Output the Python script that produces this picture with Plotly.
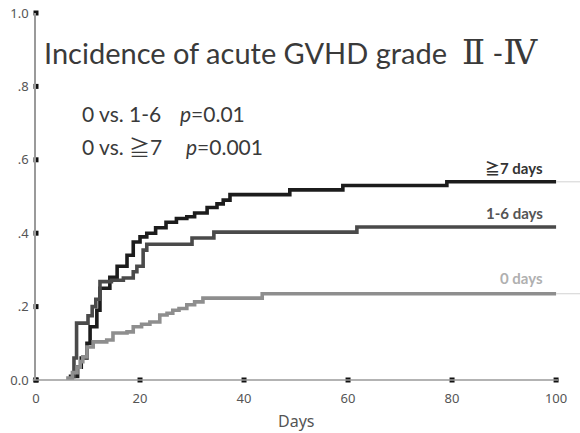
import plotly.graph_objects as go

# Cumulative incidence step curves (day, cumulative incidence)
days_ge7 = [6.3, 8.0, 8.7, 9.8, 10.4, 11.7, 12.3, 14.2, 15.6, 17.5, 18.7, 20.0, 21.3, 23.0,
            25.0, 27.0, 29.0, 30.5, 32.9, 34.8, 36.0, 37.3, 48.8, 59.0, 79.0, 100.0]
inc_ge7 = [0.01, 0.035, 0.06, 0.10, 0.145, 0.19, 0.25, 0.28, 0.31, 0.34, 0.376, 0.39, 0.40, 0.415,
           0.43, 0.44, 0.445, 0.455, 0.47, 0.48, 0.49, 0.505, 0.518, 0.53, 0.54, 0.54]

days_1to6 = [6.8, 7.3, 7.8, 10.0, 10.8, 11.5, 12.3, 14.5, 16.8, 18.7, 19.4, 20.6, 21.3,
             30.0, 34.2, 61.7, 100.0]
inc_1to6 = [0.01, 0.06, 0.155, 0.175, 0.20, 0.22, 0.268, 0.272, 0.278, 0.295, 0.31, 0.354, 0.37,
            0.387, 0.403, 0.417, 0.417]

days_0 = [5.8, 7.0, 7.9, 8.5, 9.0, 9.8, 11.0, 13.6, 14.8, 17.5, 18.7, 20.3, 21.9, 23.8, 25.2,
          26.3, 27.5, 29.0, 30.5, 32.1, 43.5, 100.0]
inc_0 = [0.005, 0.02, 0.035, 0.05, 0.063, 0.09, 0.104, 0.109, 0.128, 0.131, 0.145, 0.152, 0.158,
         0.177, 0.182, 0.19, 0.195, 0.205, 0.213, 0.223, 0.235, 0.235]

x_ticks = [0, 20, 40, 60, 80, 100]
y_ticks = [0.0, 0.2, 0.4, 0.6, 0.8, 1.0]
y_tick_text = ["0.0", ".2", ".4", ".6", ".8", "1.0"]

series = [
    ("≧7 days", days_ge7, inc_ge7, "#1c1c1c"),
    ("1-6 days", days_1to6, inc_1to6, "#4a4a4a"),
    ("0 days", days_0, inc_0, "#8e8e8e"),
]

X_MAX = 104.6

fig = go.Figure()

for name, d, v, col in series:
    fig.add_trace(go.Scatter(x=d, y=v, mode="lines", line=dict(color=col, width=3.6, shape="hv"),
                             name=name, showlegend=False, hoverinfo="skip"))

# faint continuation past day 100
for d, v in ((days_ge7, inc_ge7), (days_0, inc_0)):
    fig.add_trace(go.Scatter(x=[d[-1], X_MAX], y=[v[-1], v[-1]], mode="lines",
                             line=dict(color="#d2d2d2", width=1), showlegend=False, hoverinfo="skip"))

# square tick markers on both axes
fig.add_trace(go.Scatter(x=[0] * len(y_ticks), y=y_ticks, mode="markers",
                         marker=dict(symbol="square", size=5, color="#111111"),
                         cliponaxis=False, showlegend=False, hoverinfo="skip"))
fig.add_trace(go.Scatter(x=x_ticks, y=[0] * len(x_ticks), mode="markers",
                         marker=dict(symbol="square", size=5, color="#111111"),
                         cliponaxis=False, showlegend=False, hoverinfo="skip"))

fig.update_layout(
    width=580, height=433,
    margin=dict(l=36, r=0, t=13, b=53),
    paper_bgcolor="white", plot_bgcolor="white",
    font=dict(family="Lato, 'Noto Sans', sans-serif", color="#555555"),
    xaxis=dict(range=[0, X_MAX], showgrid=False, zeroline=False, showline=False,
               tickvals=x_ticks, ticks="", ticklabelstandoff=9,
               tickfont=dict(size=13, color="#555555", family="'Noto Sans', sans-serif")),
    yaxis=dict(range=[0, 1.0], showgrid=False, zeroline=False, showline=True,
               linecolor="#9a9a9a", linewidth=1.5,
               tickvals=y_ticks, ticktext=y_tick_text, ticks="", ticklabelstandoff=3,
               tickfont=dict(size=13, color="#555555", family="'Noto Sans', sans-serif")),
    shapes=[dict(type="line", xref="paper", yref="paper", x0=-0.006, x1=100.4 / X_MAX,
                 y0=0, y1=0, line=dict(color="#9a9a9a", width=1.5))],
)


# text placement helpers (pixel position -> paper fraction of the plot area)
def px_x(px):
    return (px - 36) / 544


def px_y(py):
    return (380 - py) / 367


serif = "<span style='font-family:DejaVu Serif;font-size:34px'>{}</span>"
cjk = "<span style='font-family:Noto Sans CJK JP'>{}</span>"

title_txt = "Incidence of acute GVHD grade  " + serif.format("Ⅱ") + " -" + serif.format("Ⅳ")

annotations = [
    dict(x=px_x(42), y=px_y(52), text=title_txt, xanchor="left", yanchor="middle",
         font=dict(size=29, color="#3a3a3a")),
    dict(x=px_x(80), y=px_y(114), text="0 vs. 1-6", xanchor="left", yanchor="middle",
         font=dict(size=21, color="#3a3a3a")),
    dict(x=px_x(178), y=px_y(114), text="<i>p</i>=0.01", xanchor="left", yanchor="middle",
         font=dict(size=21, color="#3a3a3a")),
    dict(x=px_x(80), y=px_y(146), text="0 vs. " + cjk.format("≧") + "7",
         xanchor="left", yanchor="middle", font=dict(size=21, color="#3a3a3a")),
    dict(x=px_x(184), y=px_y(146), text="<i>p</i>=0.001", xanchor="left", yanchor="middle",
         font=dict(size=21, color="#3a3a3a")),
    dict(x=px_x(545), y=px_y(167), text="<b>" + cjk.format("≧") + "7 days</b>",
         xanchor="right", yanchor="middle", font=dict(size=15, color="#333333")),
    dict(x=px_x(545), y=px_y(213), text="<b>1-6 days</b>", xanchor="right", yanchor="middle",
         font=dict(size=15, color="#555555")),
    dict(x=px_x(545), y=px_y(278), text="<b>0 days</b>", xanchor="right", yanchor="middle",
         font=dict(size=15, color="#b0b0b0")),
    dict(x=px_x(296), y=px_y(421), text="Days", xanchor="center", yanchor="middle",
         font=dict(size=16, color="#555555", family="'Noto Sans', sans-serif")),
]
for a in annotations:
    a.update(xref="paper", yref="paper", showarrow=False)
fig.update_layout(annotations=annotations)

fig.write_html("out.html")
